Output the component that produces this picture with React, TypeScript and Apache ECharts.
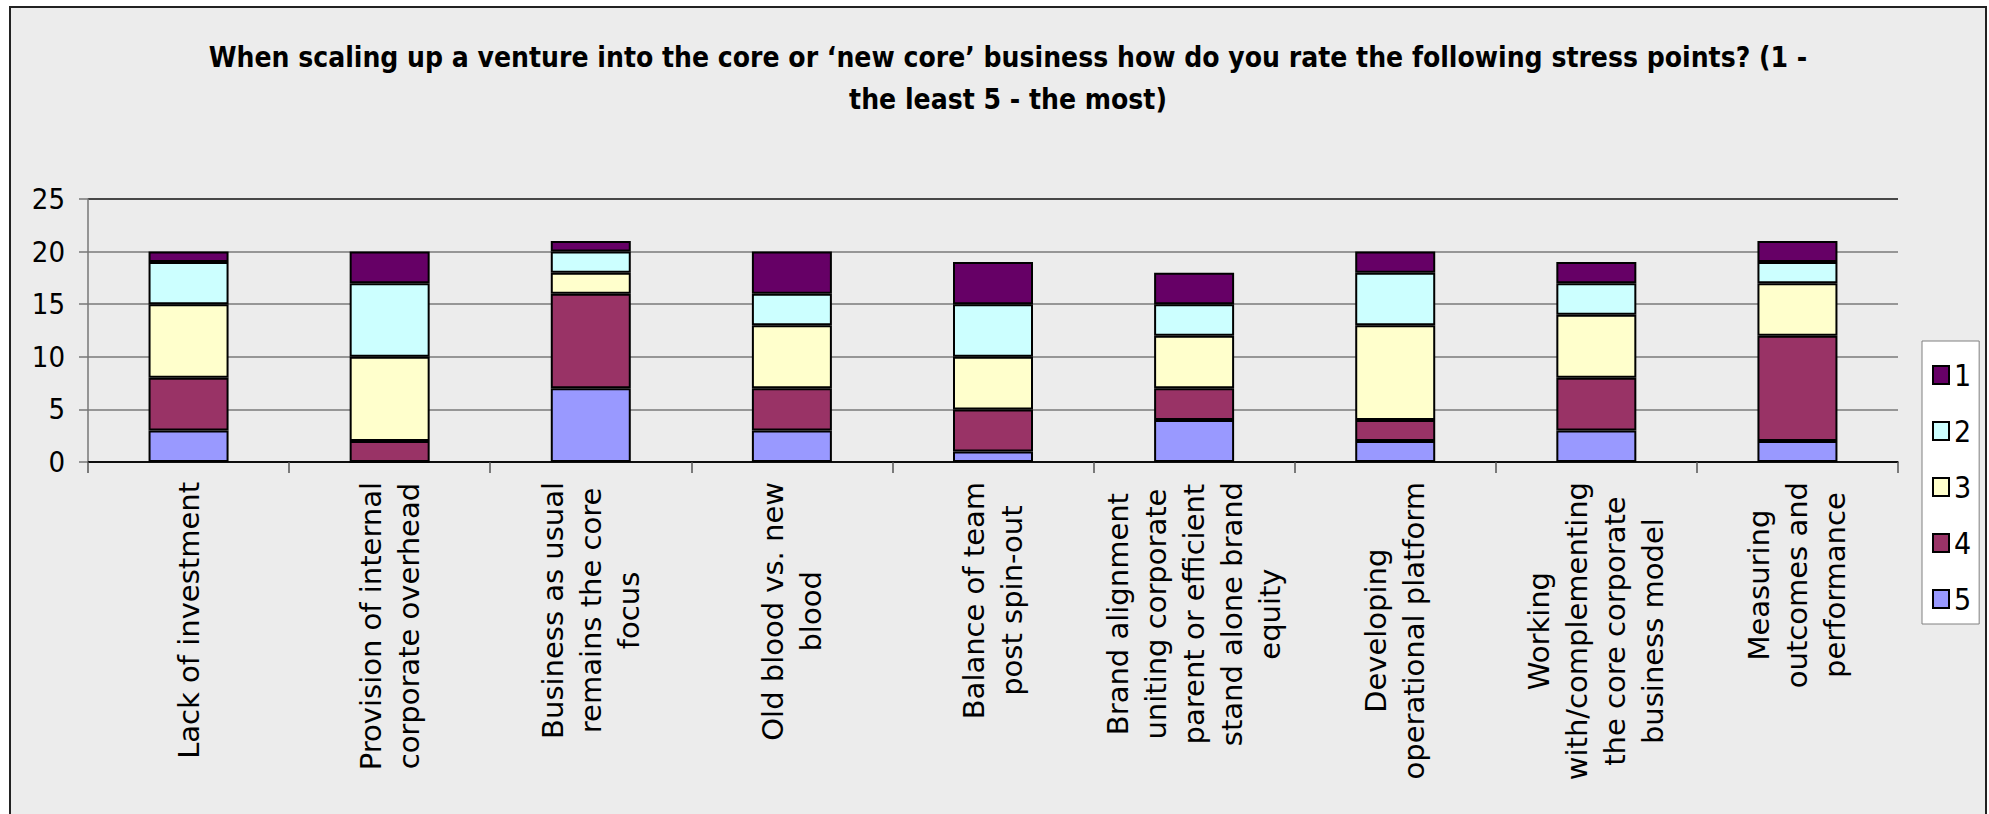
import React, { useEffect, useRef } from "react";
import * as echarts from "echarts";

const categories = [
  "Lack of investment",
  "Provision of internal\ncorporate overhead",
  "Business as usual\nremains the core\nfocus",
  "Old blood vs. new\nblood",
  "Balance of team\npost spin-out",
  "Brand alignment\nuniting corporate\nparent or efficient\nstand alone brand\nequity",
  "Developing\noperational platform",
  "Working\nwith/complementing\nthe core corporate\nbusiness model",
  "Measuring\noutcomes and\nperformance",
];

const rating1 = [1, 3, 1, 4, 4, 3, 2, 2, 2];
const rating2 = [4, 7, 2, 3, 5, 3, 5, 3, 2];
const rating3 = [7, 8, 2, 6, 5, 5, 9, 6, 5];
const rating4 = [5, 2, 9, 4, 4, 3, 2, 5, 10];
const rating5 = [3, 0, 7, 3, 1, 4, 2, 3, 2];

const legendNames = ["1", "2", "3", "4", "5"];
const yMin = 0;
const yMax = 25;
const yInterval = 5;

const titleLines = [
  "When scaling up a venture into the core or \u2018new core\u2019 business how do you rate the following stress points? (1 -",
  "the least 5 - the most)",
];

const COND = "'DejaVu Sans Condensed', 'Liberation Sans Narrow', 'DejaVu Sans', sans-serif";
const PLAIN = "'DejaVu Sans', Verdana, sans-serif";

export default function App() {
  const ref = useRef<HTMLDivElement>(null);

  useEffect(() => {
    document.body.style.margin = "0";
    const chart = echarts.init(ref.current!, undefined, { renderer: "svg" });

    const seriesDefs = [
      { name: "5", data: rating5, color: "#9999FF" },
      { name: "4", data: rating4, color: "#993366" },
      { name: "3", data: rating3, color: "#FFFFCC" },
      { name: "2", data: rating2, color: "#CCFFFF" },
      { name: "1", data: rating1, color: "#660066" },
    ];

    chart.setOption({
      animation: false,
      backgroundColor: "#ffffff",
      graphic: [
        {
          type: "rect",
          z: -10,
          silent: true,
          shape: { x: 10, y: 7, width: 1976, height: 830 },
          style: { fill: "#ECECEC", stroke: "#222", lineWidth: 2 },
        },
      ],
      title: {
        text: titleLines.join("\n"),
        left: 1003,
        textAlign: "center",
        top: 31,
        textStyle: {
          fontFamily: COND,
          fontWeight: "bold",
          fontSize: 28,
          lineHeight: 42,
          color: "#000",
        },
      },
      legend: {
        data: legendNames,
        orient: "vertical",
        left: 1922,
        top: 341,
        padding: [19, 8, 10, 10],
        itemWidth: 16,
        itemHeight: 18,
        itemGap: 26,
        icon: "rect",
        backgroundColor: "#FFFFFF",
        borderColor: "#808080",
        borderWidth: 1,
        textStyle: {
          fontFamily: COND,
          fontSize: 30,
          color: "#000",
        },
      },
      grid: {
        left: 88,
        right: 91,
        top: 199,
        bottom: 352,
        containLabel: false,
      },
      xAxis: {
        type: "category",
        data: categories,
        axisLine: { lineStyle: { color: "#000", width: 1.5 } },
        axisTick: {
          show: true,
          length: 11,
          lineStyle: { color: "#555", width: 1.5 },
        },
        axisLabel: {
          rotate: 90,
          margin: 20,
          interval: 0,
          formatter: (v: string) =>
            v
              .split("\n")
              .map((l) => "{c|" + l + "}")
              .join("\n"),
          rich: {
            c: {
              align: "center",
              fontFamily: PLAIN,
              fontSize: 29,
              lineHeight: 38,
              color: "#000",
            },
          },
        },
      },
      yAxis: {
        type: "value",
        min: yMin,
        max: yMax,
        interval: yInterval,
        axisLine: { show: true, lineStyle: { color: "#777", width: 1.5 } },
        axisTick: { show: true, length: 9, lineStyle: { color: "#777", width: 1.5 } },
        axisLabel: {
          margin: 23,
          fontFamily: COND,
          fontSize: 29,
          color: "#000",
        },
        splitLine: {
          show: true,
          lineStyle: {
            color: ["#000", "#7a7a7a", "#7a7a7a", "#7a7a7a", "#7a7a7a", "#111"],
            width: 1.5,
          },
        },
      },
      series: seriesDefs.map((s) => ({
        name: s.name,
        type: "bar",
        stack: "total",
        data: s.data,
        barWidth: 80,
        itemStyle: {
          color: s.color,
          borderColor: "#000",
          borderWidth: 2,
        },
      })),
    });

    return () => chart.dispose();
  }, []);

  return (
    <div
      ref={ref}
      style={{ position: "absolute", left: 0, top: 0, width: 1989, height: 814 }}
    />
  );
}
